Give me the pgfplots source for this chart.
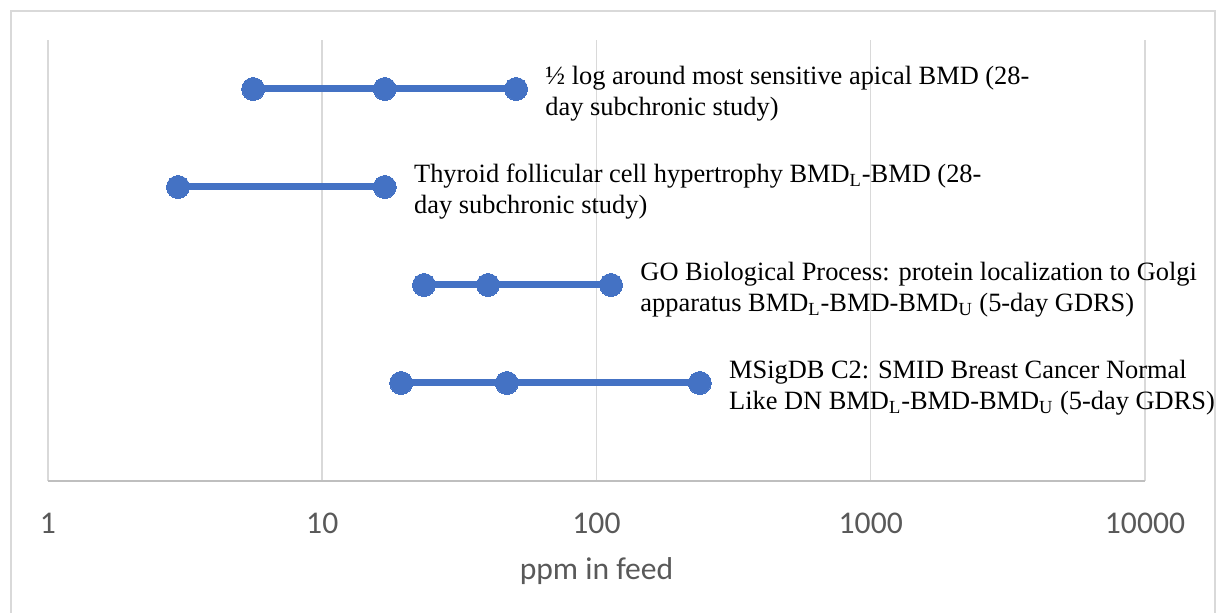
\documentclass[border=0pt]{standalone}
\usepackage{pgfplots}
\pgfplotsset{compat=1.18}
\usepackage{fontspec}
\setmainfont{Liberation Serif}
\newfontfamily\calibri{Carlito}
\definecolor{exblue}{HTML}{4472C4}
\definecolor{gridgray}{HTML}{D9D9D9}
\definecolor{txtgray}{HTML}{595959}
\tikzset{
  lbl/.style={anchor=west, inner sep=0pt, align=left, xshift=14.5pt, yshift=-2.5pt,
      font=\fontsize{13.2}{15.5}\selectfont, text=black},
  rng/.style={exblue, line width=3.5pt, mark=*, mark size=5.75pt,
      mark options={fill=exblue, draw=exblue, line width=0pt}},
}

\begin{document}
\begin{tikzpicture}
  \draw[gridgray, line width=0.8pt] (-18.5pt,-90pt) rectangle (583.5pt,235pt);
  \begin{axis}[
    name=ax,
    at={(0,0)}, anchor=south west,
    scale only axis,
    width=548.5pt, height=220.5pt,
    xmode=log,
    xmin=1, xmax=10000,
    ymin=0, ymax=4.5,
    axis x line*=bottom,
    axis y line=none,
    x axis line style={draw=gray!50, line width=0.9pt},
    xtick={1,10,100,1000,10000},
    xticklabels={1,10,100,1000,10000},
    ytick=\empty,
    tick style={draw=none},
    xmajorgrids,
    grid style={gridgray, line width=0.75pt},
    xticklabel style={font=\calibri\fontsize{15.8}{18}\selectfont, text=txtgray, yshift=-12.5pt},
    xlabel={ppm in feed},
    xlabel style={font=\calibri\fontsize{15.8}{18}\selectfont, text=txtgray,
      at={(axis description cs:0.5,0)}, anchor=center, yshift=-45pt},
    clip=false,
  ]
    % 1/2 log around most sensitive apical BMD
    \addplot[rng] coordinates {(5.6,4) (16.9,4) (50.9,4)};
    % thyroid follicular cell hypertrophy
    \addplot[rng] coordinates {(2.98,3) (16.9,3)};
    % GO protein localization to Golgi
    \addplot[rng] coordinates {(23.5,2) (40.2,2) (113,2)};
    % MSigDB C2 SMID breast cancer
    \addplot[rng] coordinates {(19.4,1) (47.1,1) (238,1)};

    \node[lbl] at (axis cs:50.9,4) {½ log around most sensitive apical BMD (28-\\day subchronic study)};
    \node[lbl] at (axis cs:16.9,3) {Thyroid follicular cell hypertrophy BMD\textsubscript{L}-BMD (28-\\day subchronic study)};
    \node[lbl] at (axis cs:113,2) {GO Biological Process: protein localization to Golgi\\apparatus BMD\textsubscript{L}-BMD-BMD\textsubscript{U} (5-day GDRS)};
    \node[lbl] at (axis cs:238,1) {MSigDB C2: SMID Breast Cancer Normal\\Like DN BMD\textsubscript{L}-BMD-BMD\textsubscript{U} (5-day GDRS)};
  \end{axis}
  \pgfresetboundingbox
  \path[use as bounding box] (-24pt,-66pt) rectangle (586.5pt,240.5pt);
\end{tikzpicture}
\end{document}
